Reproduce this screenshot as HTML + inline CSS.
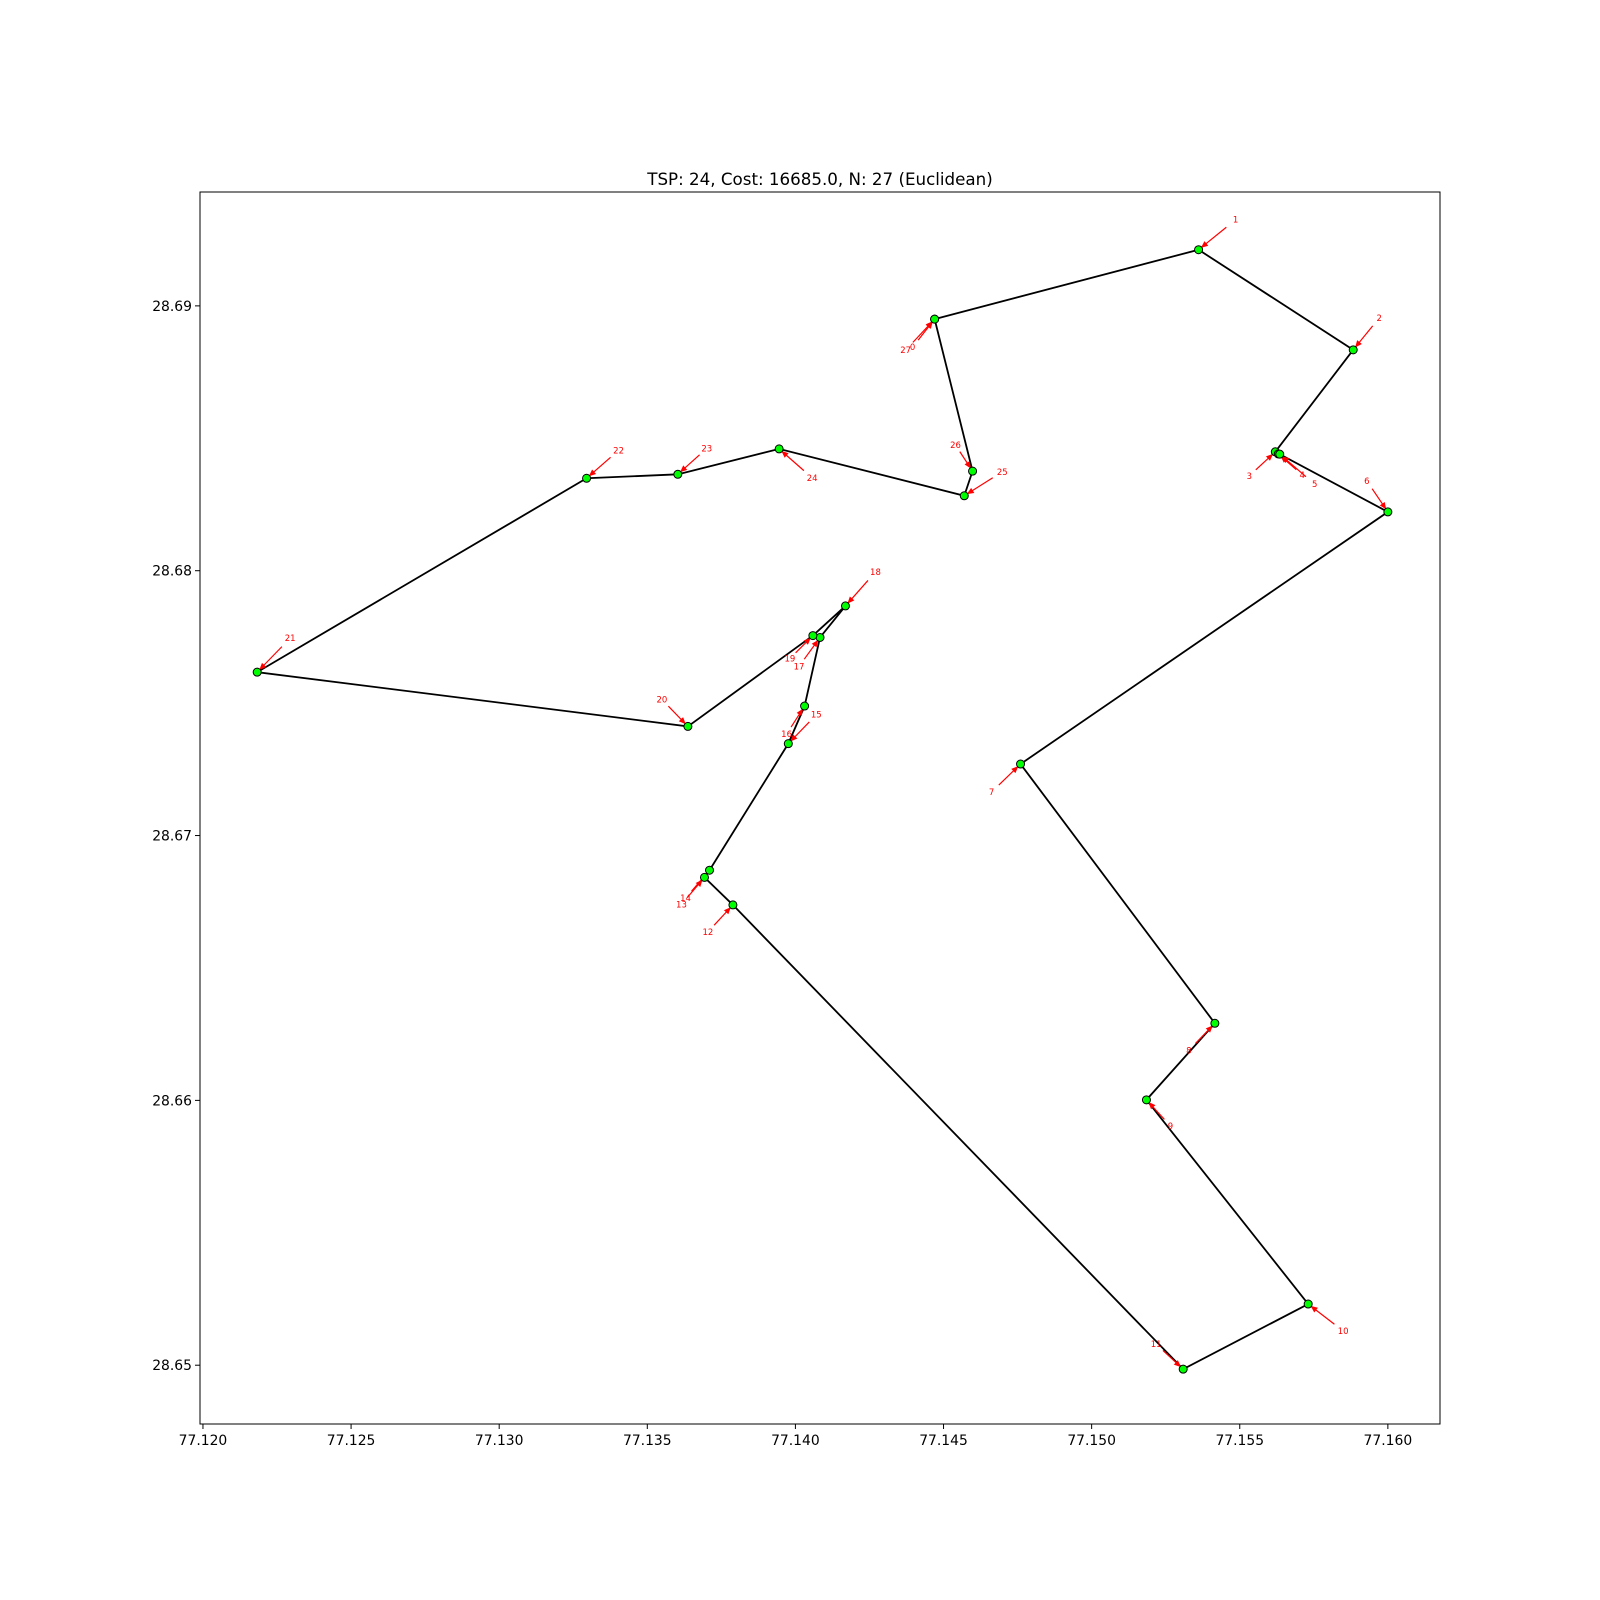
<!DOCTYPE html>
<html><head><meta charset="utf-8"><style>
html,body{margin:0;padding:0;background:#fff;}
svg{display:block;font-family:"DejaVu Sans","Liberation Sans",sans-serif;}
</style></head><body>
<svg id="chart" width="1600" height="1600" viewBox="0 0 1600 1600">
<rect x="0" y="0" width="1600" height="1600" fill="#fff"/>
<text x="820" y="185" text-anchor="middle" font-size="16.7">TSP: 24, Cost: 16685.0, N: 27 (Euclidean)</text>
<g id="plot"></g>
<rect x="200" y="192" width="1240" height="1232" fill="none" stroke="#000" stroke-width="1"/>
</svg>
<script>
const xs = [77.14470,77.15361,77.15883,77.15620,77.15630,77.15635,77.16000,77.14760,77.15416,77.15185,77.15731,77.15309,77.13789,77.13693,77.13710,77.13976,77.14031,77.14083,77.14169,77.14059,77.13637,77.12183,77.13295,77.13603,77.13945,77.14570,77.14598,77.14470];
const ys = [28.68950,28.69212,28.68834,28.68449,28.68441,28.68440,28.68222,28.67270,28.66291,28.66002,28.65231,28.64985,28.66738,28.66842,28.66869,28.67347,28.67489,28.67748,28.67867,28.67755,28.67412,28.67617,28.68349,28.68364,28.68460,28.68283,28.68376,28.68950];
const labels = ["0","1","2","3","4","5","6","7","8","9","10","11","12","13","14","15","16","17","18","19","20","21","22","23","24","25","26","27"];
const xTicks = [77.120,77.125,77.130,77.135,77.140,77.145,77.150,77.155,77.160];
const xTickLabels = ["77.120","77.125","77.130","77.135","77.140","77.145","77.150","77.155","77.160"];
const yTicks = [28.65,28.66,28.67,28.68,28.69];
const yTickLabels = ["28.65","28.66","28.67","28.68","28.69"];
// label text offsets (pixels, styling only)
const offs = [[-22,28],[37,-30],[26,-32],[-26,24],[24,21],[35,30],[-21,-31],[-29,28],[-26,27],[24,26],[35,27],[-27,-25],[-25,27],[-23,27],[-24,28],[28,-29],[-18,28],[-21,29],[30,-34],[-23,23],[-26,-27],[33,-34],[32,-28],[29,-26],[33,29],[38,-24],[-17,-26],[-29,31]];

const X0=77.11990, X1=77.16176, Y0=28.64778, Y1=28.69430;
const L=200,R=1440,T=192,B=1424;
const sx=v=>L+(v-X0)/(X1-X0)*(R-L);
const sy=v=>B-(v-Y0)/(Y1-Y0)*(B-T);
const NS="http://www.w3.org/2000/svg";
const g=document.getElementById('plot');
function mk(t,a){const e=document.createElementNS(NS,t);for(const k in a)e.setAttribute(k,a[k]);return e;}

xTicks.forEach((v,i)=>{
  const tk=mk('line',{x1:sx(v),x2:sx(v),y1:B,y2:B+5,stroke:'#000'});
  
  
  g.appendChild(tk);
  const t=mk('text',{x:sx(v),y:B+21,'text-anchor':'middle','font-size':'13.9'});
  t.textContent=xTickLabels[i];
  
  
  g.appendChild(t);
});
yTicks.forEach((v,i)=>{
  const tk=mk('line',{x1:L-5,x2:L,y1:sy(v),y2:sy(v),stroke:'#000'});
  
  
  g.appendChild(tk);
  const t=mk('text',{x:L-8,y:sy(v)+5,'text-anchor':'end','font-size':'13.9'});
  t.textContent=yTickLabels[i];
  
  
  g.appendChild(t);
});

const path=mk('polyline',{points:xs.map((x,i)=>sx(x)+','+sy(ys[i])).join(' '),fill:'none',stroke:'#000','stroke-width':'1.8'});


g.appendChild(path);

xs.forEach((x,i)=>{
  const px=sx(x),py=sy(ys[i]);
  const [dx,dy]=offs[i];
  const len=Math.hypot(dx,dy);
  const ux=dx/len,uy=dy/len;
  const sxp=px+dx*0.75, syp=py+dy*0.75;
  const ex=px+ux*3, ey=py+uy*3;
  const ar=mk('line',{x1:sxp,y1:syp,x2:ex,y2:ey,stroke:'red','stroke-width':'1.2'});
  
  
  g.appendChild(ar);
  const hx=-ux,hy=-uy;
  const bx=ex-hx*7,by=ey-hy*7;
  const head=mk('polygon',{points:`${ex},${ey} ${bx-hy*3},${by+hx*3} ${bx+hy*3},${by-hx*3}`,fill:'red'});
  
  
  g.appendChild(head);
  const t=mk('text',{x:px+dx,y:py+dy+3,'text-anchor':'middle','font-size':'8.5',fill:'red'});
  t.textContent=labels[i];
  
  
  g.appendChild(t);
});
xs.forEach((x,i)=>{
  const c=mk('circle',{cx:sx(x),cy:sy(ys[i]),r:4,fill:'#00ff00',stroke:'#000','stroke-width':'1'});
  
  
  g.appendChild(c);
});
</script>
</body></html>
